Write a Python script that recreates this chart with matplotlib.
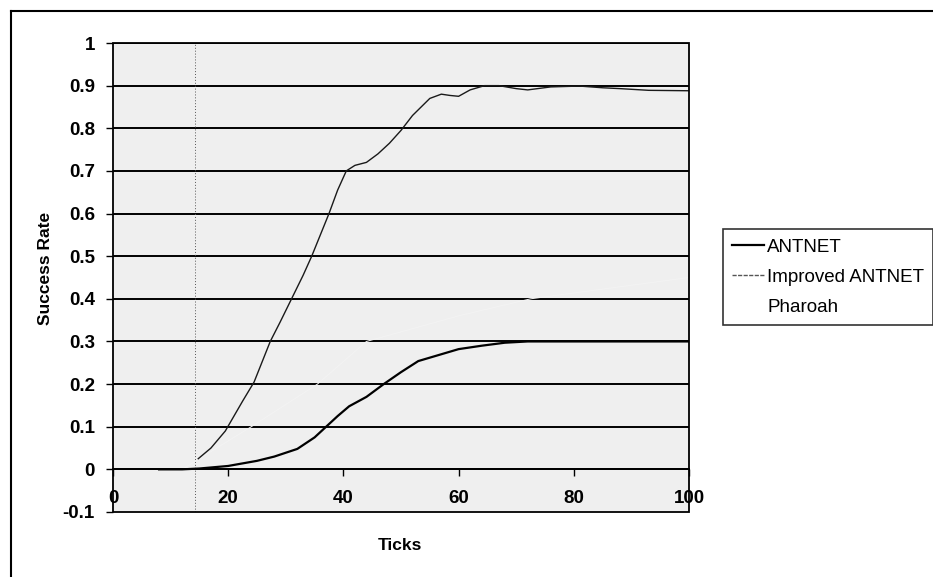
import matplotlib
matplotlib.use("Agg")
import matplotlib.pyplot as plt
from matplotlib.lines import Line2D
from matplotlib.patches import Rectangle

plt.rcParams["font.family"] = ["Liberation Sans", "DejaVu Sans"]

# --- data ---
antnet_x = [8, 10, 12, 15, 20, 25, 28, 32, 35, 37, 39, 41, 44, 47, 50,
            53, 56, 60, 64, 68, 72, 80, 90, 100]
antnet_y = [0, 0, 0, 0.002, 0.008, 0.02, 0.03, 0.048, 0.075, 0.1, 0.125, 0.148,
            0.17, 0.2, 0.228, 0.254, 0.266, 0.282, 0.29, 0.297, 0.3, 0.3, 0.3, 0.3]

improved_x = [14.8, 17, 19.5, 22.5, 24.5, 27.3, 29, 31, 33, 34.5, 36, 37.5, 39,
              40.5, 42, 44, 46, 48, 50, 52, 53.5, 55, 57, 58.5, 60, 62, 64.5,
              67, 70, 72, 76, 81, 85, 88, 93, 100]
improved_y = [0.025, 0.05, 0.09, 0.16, 0.205, 0.3, 0.345, 0.4, 0.455, 0.5, 0.55,
              0.6, 0.655, 0.7, 0.713, 0.72, 0.74, 0.765, 0.795, 0.83, 0.85, 0.87,
              0.88, 0.877, 0.875, 0.89, 0.9, 0.9, 0.893, 0.89, 0.897, 0.899,
              0.895, 0.893, 0.889, 0.888]

# Pharoah is drawn in (near) white: only visible where it breaks the gridlines
pharoah_x = [12, 24, 35.5, 44, 60, 72.5, 100]
pharoah_y = [0, 0.1, 0.2, 0.3, 0.36, 0.4, 0.45]

x_ticks = [0, 20, 40, 60, 80, 100]
y_ticks = [-0.1, 0, 0.1, 0.2, 0.3, 0.4, 0.5, 0.6, 0.7, 0.8, 0.9, 1.0]
y_tick_labels = ["-0.1", "0", "0.1", "0.2", "0.3", "0.4", "0.5", "0.6",
                 "0.7", "0.8", "0.9", "1"]
ref_line_x = 14.3

PLOT_BG = "#efefef"

W, H = 933, 577
fig = plt.figure(figsize=(W / 100, H / 100), dpi=100, facecolor="white")
ax = fig.add_axes([113 / W, 1 - 512 / H, (689 - 113) / W, (512 - 43) / H])
ax.set_facecolor(PLOT_BG)

ax.set_xlim(0, 100)
ax.set_ylim(-0.1, 1.0)

# gridlines
for yv in y_ticks[1:]:
    ax.axhline(yv, color="black", lw=1.4, zorder=1)
ax.axvline(ref_line_x, color="#555", lw=0.7, ls=(0, (1, 2)), zorder=1)

ax.plot(pharoah_x, pharoah_y, color="#f3f3f3", lw=0.7, zorder=2, label="Pharoah")
ax.plot(antnet_x, antnet_y, color="black", lw=1.6, zorder=3, label="ANTNET")
ax.plot(improved_x, improved_y, color="#1a1a1a", lw=1.0, zorder=3,
        label="Improved ANTNET")

# frame of the plot area
for s in ax.spines.values():
    s.set_visible(False)
ax.add_patch(Rectangle((0, 0), 1, 1, transform=ax.transAxes, fill=False,
                       edgecolor="black", lw=1.3, zorder=5, clip_on=False))

# x axis sits at y = 0
ax.spines["bottom"].set_visible(True)
ax.spines["bottom"].set_position(("data", 0))
ax.spines["bottom"].set_linewidth(1.4)
ax.set_xticks(x_ticks)
ax.set_xticklabels([str(v) for v in x_ticks], fontsize=13.5, fontweight="bold")
ax.tick_params(axis="x", direction="out", length=5, width=1, pad=10)

ax.set_yticks(y_ticks)
ax.set_yticklabels(y_tick_labels, fontsize=13.5, fontweight="bold")
ax.tick_params(axis="y", direction="out", length=5, width=1, pad=8)

fig.text(45 / W, 1 - 268 / H, "Success Rate", rotation=90, ha="center",
         va="center", fontsize=12.5, fontweight="bold")
fig.text(400 / W, 1 - 545 / H, "Ticks", ha="center", va="center",
         fontsize=12.5, fontweight="bold")

handles = [Line2D([0], [0], color="black", lw=1.6),
           Line2D([0], [0], color="#555", lw=1.0, ls=(0, (3, 1))),
           Line2D([0], [0], color="white", lw=1.0)]
leg = fig.legend(handles, ["ANTNET", "Improved ANTNET", "Pharoah"],
                 loc="upper left", bbox_to_anchor=(723 / W, 1 - 229 / H),
                 fontsize=13.5, frameon=True, fancybox=False, shadow=False,
                 handlelength=1.7, handletextpad=0.15, labelspacing=0.7,
                 borderpad=0.5, borderaxespad=0)
leg.get_frame().set_edgecolor("black")
leg.get_frame().set_linewidth(1.2)

# outer chart border (top and left only visible)
fig.add_artist(Line2D([11 / W, 1], [1 - 11 / H, 1 - 11 / H], color="black",
                      lw=1.5, transform=fig.transFigure))
fig.add_artist(Line2D([11 / W, 11 / W], [0, 1 - 11 / H], color="black",
                      lw=1.5, transform=fig.transFigure))

fig.savefig("out.png", dpi=100, facecolor="white")
